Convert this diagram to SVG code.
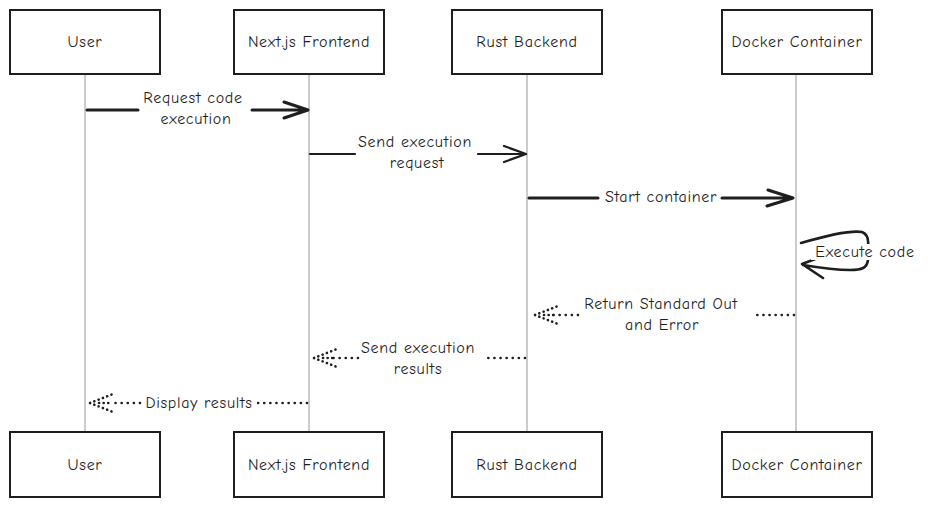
<svg xmlns="http://www.w3.org/2000/svg" width="928" height="508" viewBox="0 0 928 508">
<style>
.box{fill:#fff;stroke:#1e1e1e;stroke-width:2}
.life{stroke:#a8a8a8;stroke-width:1.2;fill:none}
.t{font-family:"Comic Neue","Liberation Sans",sans-serif;font-size:16px;fill:#1e1e1e;text-anchor:middle;letter-spacing:0.7px}
.sol{stroke:#1e1e1e;stroke-width:2.6;fill:none;stroke-linecap:round;stroke-linejoin:round}
.dot{stroke:#1e1e1e;stroke-width:2.6;fill:none;stroke-linecap:round;stroke-dasharray:0.1 6}
</style>
<g id="lifelines">
<line class="life" x1="85" y1="74" x2="85" y2="432"/>
<line class="life" x1="309" y1="74" x2="309" y2="432"/>
<line class="life" x1="527" y1="74" x2="527" y2="432"/>
<line class="life" x1="796" y1="74" x2="796" y2="432"/>
</g>
<g id="user-top"><rect class="box" x="10" y="10" width="150" height="64"/><text class="t" x="85" y="47">User</text></g>
<g id="next-top"><rect class="box" x="234" y="10" width="150" height="64"/><text class="t" x="309" y="47">Next.js Frontend</text></g>
<g id="rust-top"><rect class="box" x="452" y="10" width="150" height="64"/><text class="t" x="527" y="47">Rust Backend</text></g>
<g id="docker-top"><rect class="box" x="722" y="10" width="150" height="64"/><text class="t" x="797" y="47">Docker Container</text></g>
<g id="user-bottom"><rect class="box" x="10" y="432" width="150" height="65"/><text class="t" x="85" y="470">User</text></g>
<g id="next-bottom"><rect class="box" x="234" y="432" width="150" height="65"/><text class="t" x="309" y="470">Next.js Frontend</text></g>
<g id="rust-bottom"><rect class="box" x="452" y="432" width="150" height="65"/><text class="t" x="527" y="470">Rust Backend</text></g>
<g id="docker-bottom"><rect class="box" x="722" y="432" width="150" height="65"/><text class="t" x="797" y="470">Docker Container</text></g>
<g id="connectors">
<!-- 1 Request code execution -->
<path class="sol" d="M87 110 L138 110 M252 110 L306 110 M284 102 L308 110 L284 118" style="stroke-width:3"/>
<text class="t" x="193" y="103">Request code</text>
<text class="t" x="196" y="124">execution</text>
<!-- 2 Send execution request -->
<path class="sol" d="M310 154 L355 154 M478 154 L524 154 M504 146 L526 154 L504 162" style="stroke-width:2.2"/>
<text class="t" x="415" y="147">Send execution</text>
<text class="t" x="417" y="168">request</text>
<!-- 3 Start container -->
<path class="sol" d="M529 198 L598 198 M722 198 L792 198 M768 190 L793 198 L767 206" style="stroke-width:3"/>
<text class="t" x="661" y="202">Start container</text>
<!-- 4 Execute code (self) -->
<path class="sol" d="M801 243 C825 236 850 230 862 232 C867 234 869 238 868 246 M868 260 C867 268 862 270 850 270 C835 270 815 267 803 265 M826 255 L802 264 L823 278" style="stroke-width:2.6"/>
<rect x="811" y="244" width="108" height="16" fill="#fff"/>
<text class="t" x="865" y="257">Execute code</text>
<!-- 5 Return Standard Out and Error -->
<path class="dot" d="M794 315 L752 315 M578 315 L548 315"/>
<path class="dot" d="M535 315 L558 306 M535 315 L558 324 M544 315 L556 315" style="stroke-dasharray:0.1 4.5"/>
<text class="t" x="661" y="309">Return Standard Out</text>
<text class="t" x="662" y="330">and Error</text>
<!-- 6 Send execution results -->
<path class="dot" d="M525 358 L485 358 M358 358 L330 358"/>
<path class="dot" d="M314 358 L337 349 M314 358 L337 367 M323 358 L335 358" style="stroke-dasharray:0.1 4.5"/>
<text class="t" x="418" y="353">Send execution</text>
<text class="t" x="418" y="374">results</text>
<!-- 7 Display results -->
<path class="dot" d="M307 403 L258 403 M140 403 L112 403"/>
<path class="dot" d="M90 403 L113 394 M90 403 L113 412 M99 403 L111 403" style="stroke-dasharray:0.1 4.5"/>
<text class="t" x="199" y="408">Display results</text>
</g>
</svg>
